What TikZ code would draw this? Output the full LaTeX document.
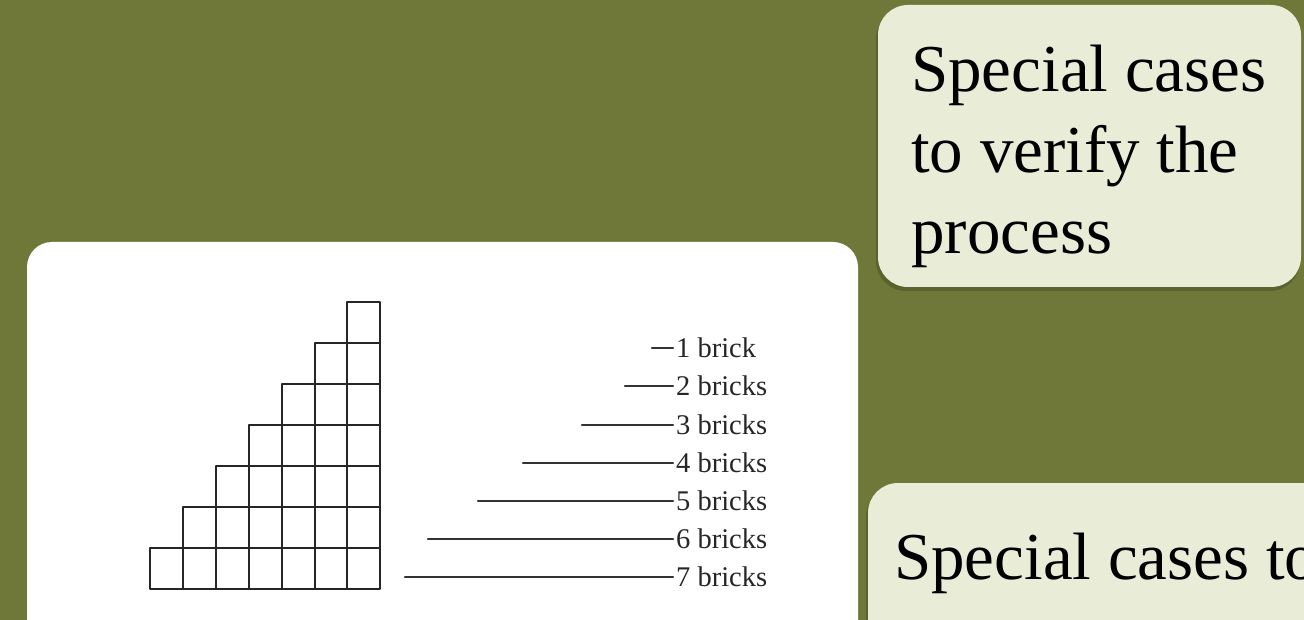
\documentclass[tikz,border=0pt]{standalone}
\usepackage{fontspec}
\setmainfont{Liberation Serif}
\definecolor{slidegreen}{RGB}{111,120,56}
\definecolor{notepaper}{RGB}{233,237,216}
\tikzset{
  notebox/.style={fill=notepaper, rounded corners=30},
  noteshadow/.style={fill=black, opacity=0.18, rounded corners=30},
  notetext/.style={inner sep=0pt, align=left, font=\fontsize{67}{81}\selectfont},
  brickcell/.style={draw=black!85, line width=2pt},
  bricklabel/.style={inner xsep=3pt, inner ysep=0pt, anchor=west, text=black!85, font=\fontsize{28.5}{30}\selectfont},
  brickline/.style={draw=black!80, line width=2.2pt}
}
\begin{document}
\begin{tikzpicture}[x=1pt, y=-1pt, line join=round, line cap=round]
    \useasboundingbox (0,0) rectangle (1304,620);
    \clip (0,0) rectangle (1304,620);
    \fill[slidegreen] (0,0) rectangle (1304,620);

    % white panel with the staircase
    \fill[white, rounded corners=25] (27,242) rectangle (858,680);

    % staircase of bricks
    \foreach \c in {0,...,6} {
        \foreach \r in {0,...,\c} {
            \draw[brickcell] ({150+32.9*\c},{589-41*\r}) rectangle ++(32.9,-41);
        }
    }

    % lines with their labels
    \foreach \n/\xs/\y/\word in {1/652/348/brick, 2/625/386/bricks, 3/582/425/bricks, 4/523/463/bricks, 5/478/501/bricks, 6/428/539/bricks, 7/405/577/bricks} {
        \node[bricklabel] (lbl\n) at (673,\y) {\n\ \word};
        \draw[brickline] (\xs,\y) -- (lbl\n.west);
    }

    % notes on the right
    \fill[noteshadow] (876,9) rectangle (1300,291);
    \fill[notebox] (878,5) rectangle (1301,287);
    \node[notetext, anchor=base west] (verify) at (911,254) {Special cases\\to verify the\\process};

    \fill[noteshadow] (866,487) rectangle (1360,680);
    \fill[notebox] (868,483) rectangle (1360,680);
    \node[notetext, anchor=base west] (verifyb) at (894,579) {Special cases to};
\end{tikzpicture}
\end{document}
